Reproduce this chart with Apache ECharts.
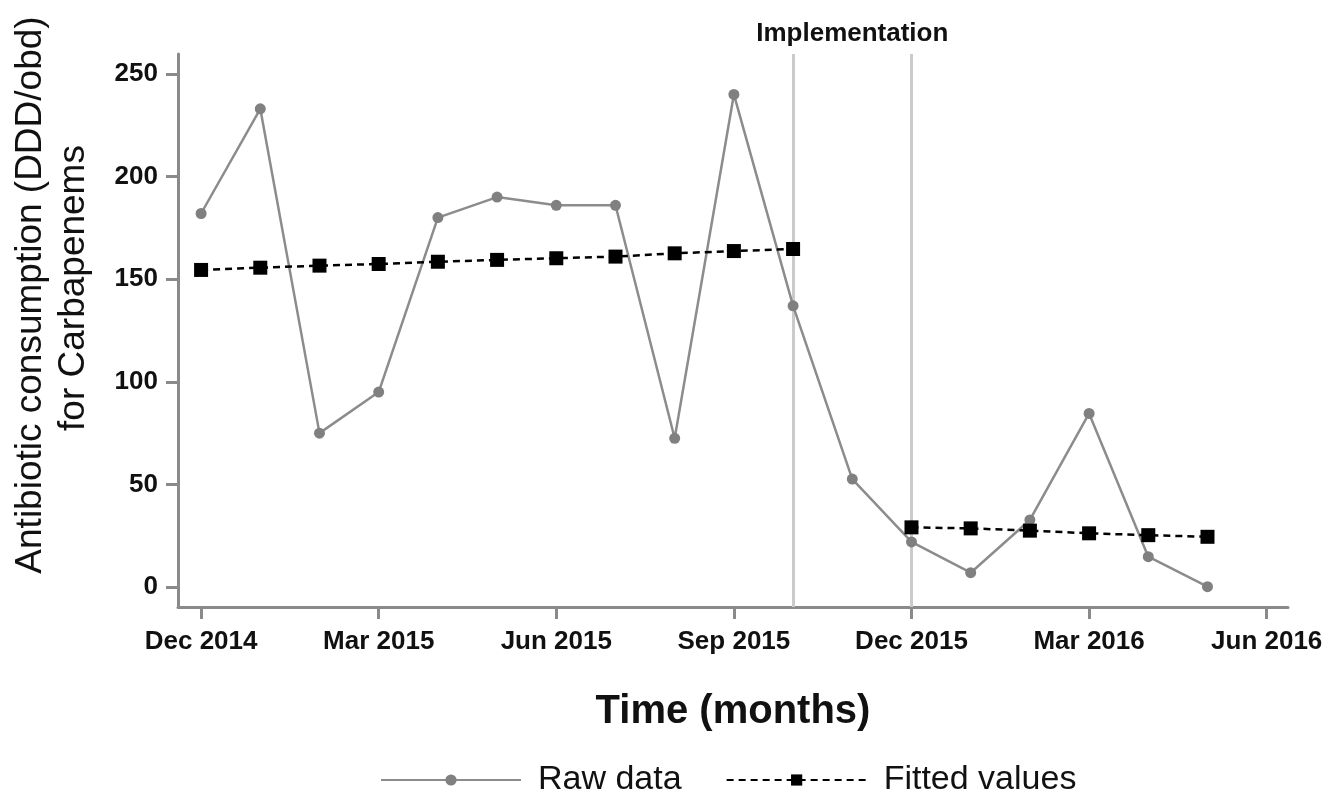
<!DOCTYPE html>
<html>
<head>
<meta charset="utf-8">
<script src="https://cdn.jsdelivr.net/npm/echarts@6/dist/echarts.min.js"></script>
<style>
html,body{margin:0;padding:0;background:#fff;}
#chart{width:1332px;height:803px;}
</style>
</head>
<body>
<div id="chart"></div>
<script>
// Month index 0 = Dec 2014 ... 17 = May 2016
const rawMonths = [0,1,2,3,4,5,6,7,8,9,10,11,12,13,14,15,16,17];
const rawValues = [182, 233, 75, 95, 180, 190, 186, 186, 72.5, 240, 137, 52.6, 22, 7, 32.7, 84.6, 14.8, 0.2];
const fitPreMonths = [0,1,2,3,4,5,6,7,8,9,10];
const fitPreValues = [154.5, 155.6, 156.6, 157.4, 158.5, 159.4, 160.2, 161, 162.6, 163.7, 164.7];
const fitPostMonths = [12,13,14,15,16,17];
const fitPostValues = [29.1, 28.6, 27.5, 26.2, 25.3, 24.5];
const xTickPositions = [0,3,6,9,12,15,18];
const xTickLabels = ['Dec 2014','Mar 2015','Jun 2015','Sep 2015','Dec 2015','Mar 2016','Jun 2016'];
const yTicks = [0,50,100,150,200,250];
const implementationMonths = [10, 12];

const pair = (xs, ys) => xs.map((x, i) => [x, ys[i]]);
const FONT = '"Liberation Sans", Arial, sans-serif';
const AXIS_GREY = '#8a8a8a';

const chart = echarts.init(document.getElementById('chart'), null, {renderer: 'canvas'});
chart.setOption({
  animation: false,
  backgroundColor: '#ffffff',
  grid: {left: 178, right: 44, top: 54, bottom: 196, containLabel: false},
  xAxis: {
    type: 'value',
    min: -0.39,
    max: 18.36,
    splitLine: {show: false},
    axisLine: {show: true, onZero: false, lineStyle: {color: AXIS_GREY, width: 3}},
    axisTick: {show: true, length: 12, lineStyle: {color: AXIS_GREY, width: 3}, customValues: xTickPositions},
    axisLabel: {
      customValues: xTickPositions,
      margin: 22,
      fontFamily: FONT, fontWeight: 'bold', fontSize: 26, color: '#111',
      formatter: v => xTickLabels[xTickPositions.indexOf(Math.round(v))] || ''
    },
    name: 'Time (months)',
    nameLocation: 'middle',
    nameGap: 85,
    nameTextStyle: {fontFamily: FONT, fontWeight: 'bold', fontSize: 40, color: '#111'}
  },
  yAxis: {
    type: 'value',
    min: -9.7,
    max: 259.7,
    splitLine: {show: false},
    axisLine: {show: true, onZero: false, lineStyle: {color: AXIS_GREY, width: 3}},
    axisTick: {show: true, length: 12, lineStyle: {color: AXIS_GREY, width: 3}, customValues: yTicks},
    axisLabel: {
      customValues: yTicks,
      margin: 20,
      fontFamily: FONT, fontWeight: 'bold', fontSize: 26, color: '#111'
    }
  },
  graphic: [
    {type: 'text', x: 31, y: 295, rotation: Math.PI / 2,
     style: {text: 'Antibiotic consumption (DDD/obd)', font: '37px ' + FONT, fill: '#111', align: 'center', verticalAlign: 'middle'}},
    {type: 'text', x: 74, y: 288, rotation: Math.PI / 2,
     style: {text: 'for Carbapenems', font: '37px ' + FONT, fill: '#111', align: 'center', verticalAlign: 'middle'}}
  ],
  legend: {
    left: 375,
    top: 758,
    itemWidth: 140,
    itemHeight: 14,
    itemGap: 44,
    data: ['Raw data', 'Fitted values'],
    textStyle: {fontFamily: FONT, fontSize: 34, color: '#111', padding: [0, 0, 0, 12]}
  },
  series: [
    {
      name: 'Raw data',
      type: 'line',
      data: pair(rawMonths, rawValues),
      symbol: 'circle',
      symbolSize: 11,
      itemStyle: {color: '#808080'},
      lineStyle: {color: '#8c8c8c', width: 2.5},
      z: 2,
      markLine: {
        silent: true,
        z: 1,
        symbol: ['none', 'none'],
        label: {show: false},
        lineStyle: {color: '#cbcbcb', width: 3, type: 'solid'},
        data: implementationMonths.map(m => ({xAxis: m}))
      },
      markArea: {
        silent: true,
        z: 1,
        itemStyle: {color: 'rgba(0,0,0,0)'},
        label: {show: true, position: 'top', distance: 7, formatter: 'Implementation',
                fontFamily: FONT, fontWeight: 'bold', fontSize: 26, color: '#111'},
        data: [[{xAxis: implementationMonths[0]}, {xAxis: implementationMonths[1]}]]
      }
    },
    {
      name: 'Fitted values',
      type: 'line',
      data: pair(fitPreMonths, fitPreValues),
      symbol: 'rect',
      symbolSize: 14,
      itemStyle: {color: '#000'},
      lineStyle: {color: '#000', width: 2.5, type: [7, 5]},
      z: 3
    },
    {
      name: 'Fitted values',
      type: 'line',
      data: pair(fitPostMonths, fitPostValues),
      symbol: 'rect',
      symbolSize: 14,
      itemStyle: {color: '#000'},
      lineStyle: {color: '#000', width: 2.5, type: [7, 5]},
      z: 3
    }
  ]
});
</script>
</body>
</html>
